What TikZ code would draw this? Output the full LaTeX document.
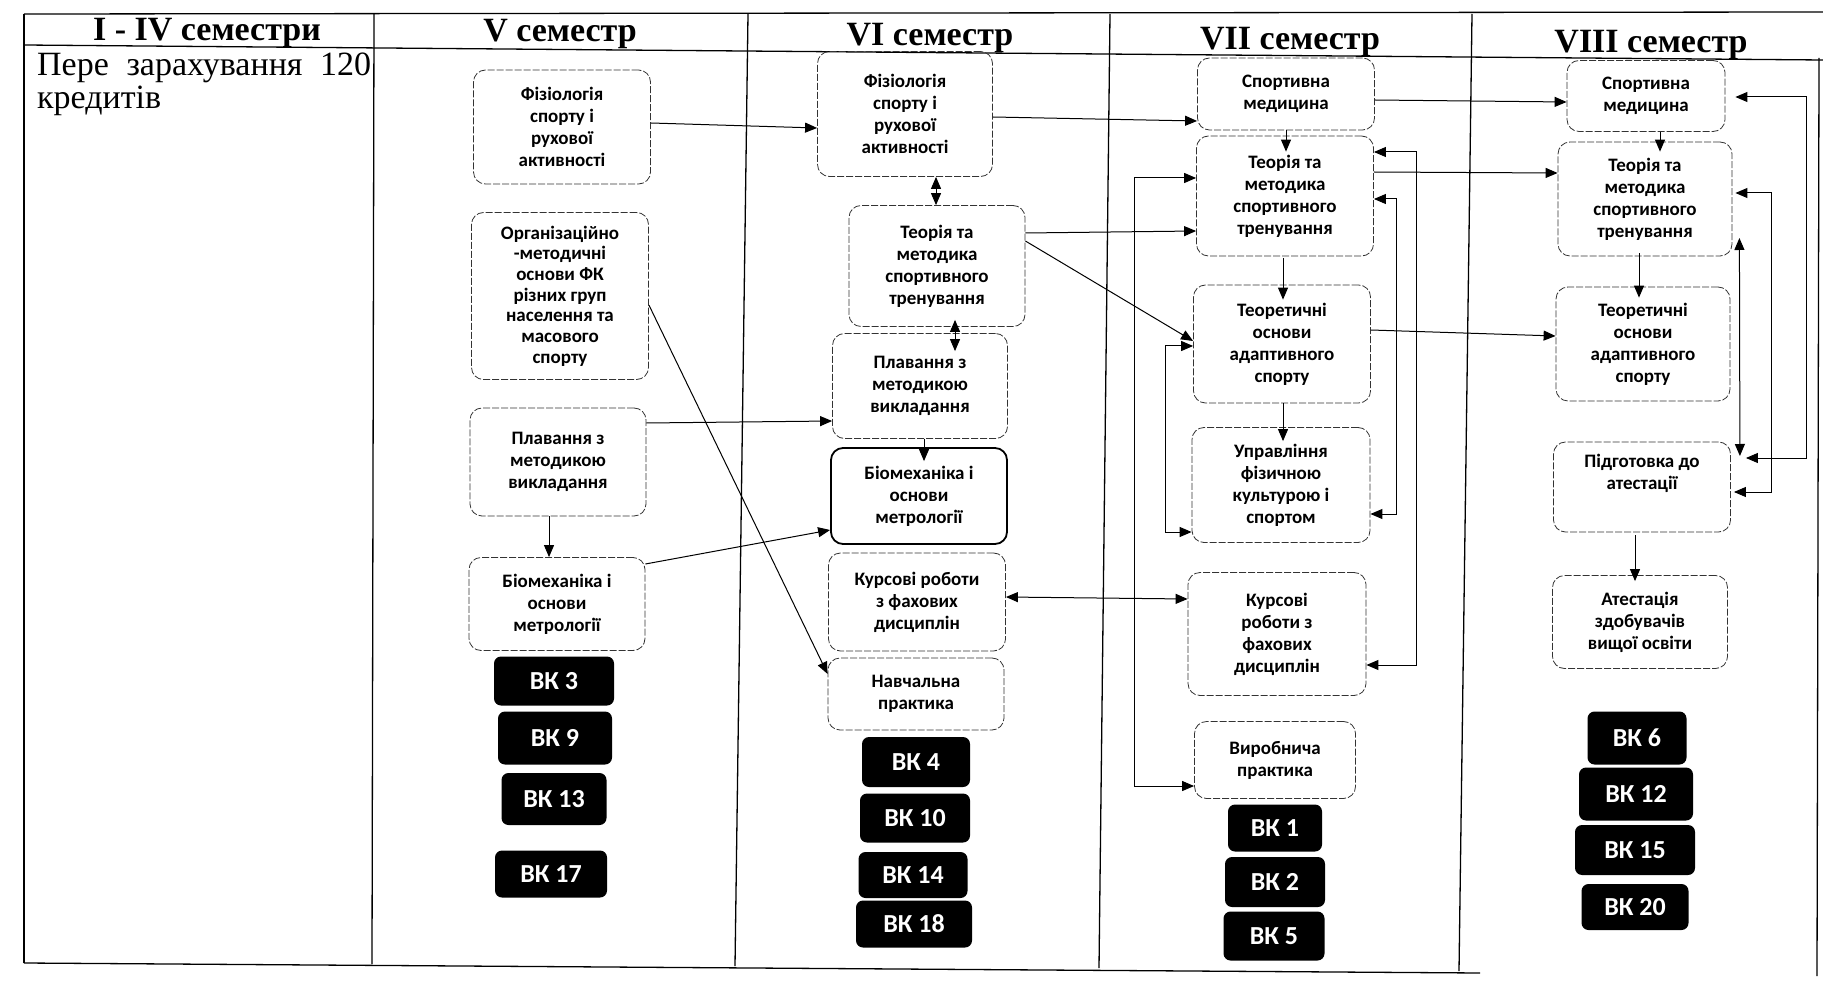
\documentclass[tikz,border=0pt]{standalone}
\usepackage{fontspec}
\setmainfont{Liberation Serif}
\newfontfamily\carl{Carlito}
\usetikzlibrary{arrows.meta,calc}
\hyphenpenalty=10000
\begin{document}
\begin{tikzpicture}[x=1pt,y=-1pt,
  box/.style={draw=black!80, dash pattern=on 7pt off 2pt, line width=0.8pt, rounded corners=12pt, align=center, font=\carl\bfseries\fontsize{19}{22}\selectfont, inner sep=0pt},
  vk/.style={fill=black, rounded corners=7pt, text=white, font=\carl\bfseries\fontsize{26}{28}\selectfont, inner sep=0pt},
  arr/.style={-{Triangle[length=12pt,width=10pt]}, line width=1pt},
  darr/.style={{Triangle[length=12pt,width=10pt]}-{Triangle[length=12pt,width=10pt]}, line width=1pt},
  tline/.style={line width=1.3pt},
  hd/.style={font=\bfseries\fontsize{34}{38}\selectfont, inner sep=0pt}
]
\useasboundingbox (0,0) rectangle (1823,981);
\fill[white] (0,0) rectangle (1823,981);
% table
\draw[tline] (24,14) -- (1823,12);
\draw[tline] (24,45) -- (1823,60);
\draw[tline] (24,963) -- (1480,973);
\draw[tline] (24,14) -- (24,963);
\draw[tline] (374,14) -- (372,964);
\draw[tline] (748,14) -- (735,966);
\draw[tline] (1110,14) -- (1099,968);
\draw[tline] (1472,14) -- (1459,971);
\draw[tline] (1819,58) -- (1817,976);
% headers
\node[hd] (h1) at (207,33) {I - IV семестри};
\node[hd] (h2) at (560,34) {V семестр};
\node[hd] (h3) at (930,38) {VI семестр};
\node[hd] (h4) at (1290,42) {VII семестр};
\node[hd] (h5) at (1651,45) {VIII семестр};
\node[anchor=north west, text width=334pt, align=justify, inner sep=0pt, font=\fontsize{34}{33}\selectfont] (pz) at (37,53) {Пере зарахування 120 кредитів};
% column V
\node[box, minimum width=177pt, minimum height=114pt] (V1) at (562,127) {Фізіологія\\спорту і\\рухової\\активності};
\node[box, minimum width=177pt, minimum height=167pt, font=\carl\bfseries\fontsize{19}{20.7}\selectfont] (V2) at (560,296) {Організаційно\\-методичні\\основи ФК\\різних груп\\населення та\\масового\\спорту};
\node[box, minimum width=176pt, minimum height=108pt] (V3) at (558,462) {Плавання з\\методикою\\викладання};
\node[box, minimum width=176pt, minimum height=93pt] (V4) at (557,604) {Біомеханіка і\\основи\\метрології};
\node[vk, minimum width=120pt, minimum height=49pt] (vk3) at (554,681) {ВК 3};
\node[vk, minimum width=114pt, minimum height=53pt] (vk9) at (555,738) {ВК 9};
\node[vk, minimum width=105pt, minimum height=52pt] (vk13) at (554,799) {ВК 13};
\node[vk, minimum width=112pt, minimum height=47pt] (vk17) at (551,874) {ВК 17};
% column VI
\node[box, minimum width=175pt, minimum height=125pt] (VI1) at (905,114) {Фізіологія\\спорту і\\рухової\\активності};
\node[box, minimum width=176pt, minimum height=121pt] (VI2) at (937,266) {Теорія та\\методика\\спортивного\\тренування};
\node[box, minimum width=175pt, minimum height=105pt] (VI3) at (920,386) {Плавання з\\методикою\\викладання};
\node[box, minimum width=176pt, minimum height=96pt, solid, draw=black, line width=1.8pt] (VI4) at (919,496) {Біомеханіка і\\основи\\метрології};
\node[box, minimum width=177pt, minimum height=98pt] (VI5) at (917,602) {Курсові роботи\\з фахових\\дисциплін};
\node[box, minimum width=176pt, minimum height=72pt] (VI6) at (916,694) {Навчальна\\практика};
\node[vk, minimum width=108pt, minimum height=50pt] (vk4) at (916,762) {ВК 4};
\node[vk, minimum width=110pt, minimum height=49pt] (vk10) at (915,818) {ВК 10};
\node[vk, minimum width=109pt, minimum height=46pt] (vk14) at (913,875) {ВК 14};
\node[vk, minimum width=116pt, minimum height=47pt] (vk18) at (914,924) {ВК 18};
% column VII
\node[box, minimum width=177pt, minimum height=72pt] (VII1) at (1286,94) {Спортивна\\медицина};
\node[box, minimum width=177pt, minimum height=120pt] (VII2) at (1285,196) {Теорія та\\методика\\спортивного\\тренування};
\node[box, minimum width=177pt, minimum height=118pt] (VII3) at (1282,344) {Теоретичні\\основи\\адаптивного\\спорту};
\node[box, minimum width=178pt, minimum height=115pt] (VII4) at (1281,485) {Управління\\фізичною\\культурою і\\спортом};
\node[box, minimum width=178pt, minimum height=123pt] (VII5) at (1277,634) {Курсові\\роботи з\\фахових\\дисциплін};
\node[box, minimum width=161pt, minimum height=77pt] (VII6) at (1275,760) {Виробнича\\практика};
\node[vk, minimum width=94pt, minimum height=47pt] (vk1) at (1275,828) {ВК 1};
\node[vk, minimum width=100pt, minimum height=50pt] (vk2) at (1275,882) {ВК 2};
\node[vk, minimum width=101pt, minimum height=49pt] (vk5) at (1274,936) {ВК 5};
% column VIII
\node[box, minimum width=158pt, minimum height=71pt] (VIII1) at (1646,96) {Спортивна\\медицина};
\node[box, minimum width=174pt, minimum height=114pt] (VIII2) at (1645,199) {Теорія та\\методика\\спортивного\\тренування};
\node[box, minimum width=174pt, minimum height=114pt] (VIII3) at (1643,344) {Теоретичні\\основи\\адаптивного\\спорту};
\node[box, minimum width=177pt, minimum height=90pt] (VIII4) at (1642,487) {Підготовка до\\атестації\\[8pt]};
\node[box, minimum width=175pt, minimum height=93pt] (VIII5) at (1640,622) {Атестація\\здобувачів\\вищої освіти};
\node[vk, minimum width=99pt, minimum height=53pt] (vk6) at (1637,738) {ВК 6};
\node[vk, minimum width=114pt, minimum height=53pt] (vk12) at (1636,794) {ВК 12};
\node[vk, minimum width=120pt, minimum height=50pt] (vk15) at (1635,850) {ВК 15};
\node[vk, minimum width=107pt, minimum height=46pt] (vk20) at (1635,907) {ВК 20};
% connectors V -> VI
\draw[arr] (V1.east |- 0,123) -- (VI1.west |- 0,128);
\draw[arr] (V2.east |- 0,305) -- (VI6.west |- 0,674);
\draw[arr] (V3.east |- 0,423) -- (VI3.west |- 0,421);
\draw[arr] (V3.south -| 549,0) -- (V4.north -| 549,0);
\draw[arr] (V4.east |- 0,564) -- (VI4.west |- 0,530);
% VI
\draw[darr] (VI1.south -| 936,0) -- (VI2.north -| 936,0);
\draw[darr] ($(VI2.south -| 955,0)+(0,-7)$) -- ($(VI3.north -| 955,0)+(0,18)$);
\draw[arr] (VI3.south -| 924,0) -- ($(VI4.north -| 924,0)+(0,14)$);
\draw[arr] (VI1.east |- 0,117) -- (VII1.west |- 0,121);
\draw[arr] (VI2.east |- 0,233) -- (VII2.west |- 0,231);
\draw[arr] (VI2.east |- 0,241) -- (VII3.west |- 0,341);
\draw[darr] (VI5.east |- 0,597) -- (VII5.west |- 0,599);
% VII
\draw[arr] (VII1.south -| 1286,0) -- ($(VII2.north -| 1286,0)+(0,16)$);
\draw[arr] ($(VII2.south -| 1283,0)+(0,2)$) -- ($(VII3.north -| 1283,0)+(0,15)$);
\draw[arr] (VII3.south -| 1283,0) -- ($(VII4.north -| 1283,0)+(0,14)$);
\draw[arr] (VII1.east |- 0,100) -- (VIII1.west |- 0,102);
\draw[arr] (VII2.east |- 0,172) -- (VIII2.west |- 0,173);
\draw[arr] (VII3.east |- 0,330) -- (VIII3.west |- 0,336);
\draw[darr] (VII2.west |- 0,178) -| (1134,786) -- (VII6.west |- 0,786);
\draw[darr] (VII3.west |- 0,346) -| (1165,532) -- (VII4.west |- 0,532);
\draw[darr] (VII2.east |- 0,199) -| (1396,514) -- (VII4.east |- 0,514);
\draw[darr] (VII2.east |- 0,152) -| (1416,665) -- (VII5.east |- 0,665);
% VIII
\draw[arr] (VIII1.south -| 1660,0) -- ($(VIII2.north -| 1660,0)+(0,10)$);
\draw[arr] ($(VIII2.south -| 1639,0)+(0,-3)$) -- ($(VIII3.north -| 1639,0)+(0,11)$);
\draw[arr] ($(VIII4.south -| 1635,0)+(0,3)$) -- ($(VIII5.north -| 1635,0)+(0,6)$);
\draw[darr] ($(VIII1.east |- 0,97)+(10,0)$) -| (1806,458) -- ($(VIII4.east |- 0,458)+(15,0)$);
\draw[darr] ($(VIII2.east |- 0,193)+(3,0)$) -| (1771,492) -- ($(VIII4.east |- 0,492)+(3,0)$);
\draw[darr] ($(VIII2.east |- 0,238)+(7,0)$) -- ($(VIII4.east |- 0,456)+(9,0)$);
\end{tikzpicture}
\end{document}
